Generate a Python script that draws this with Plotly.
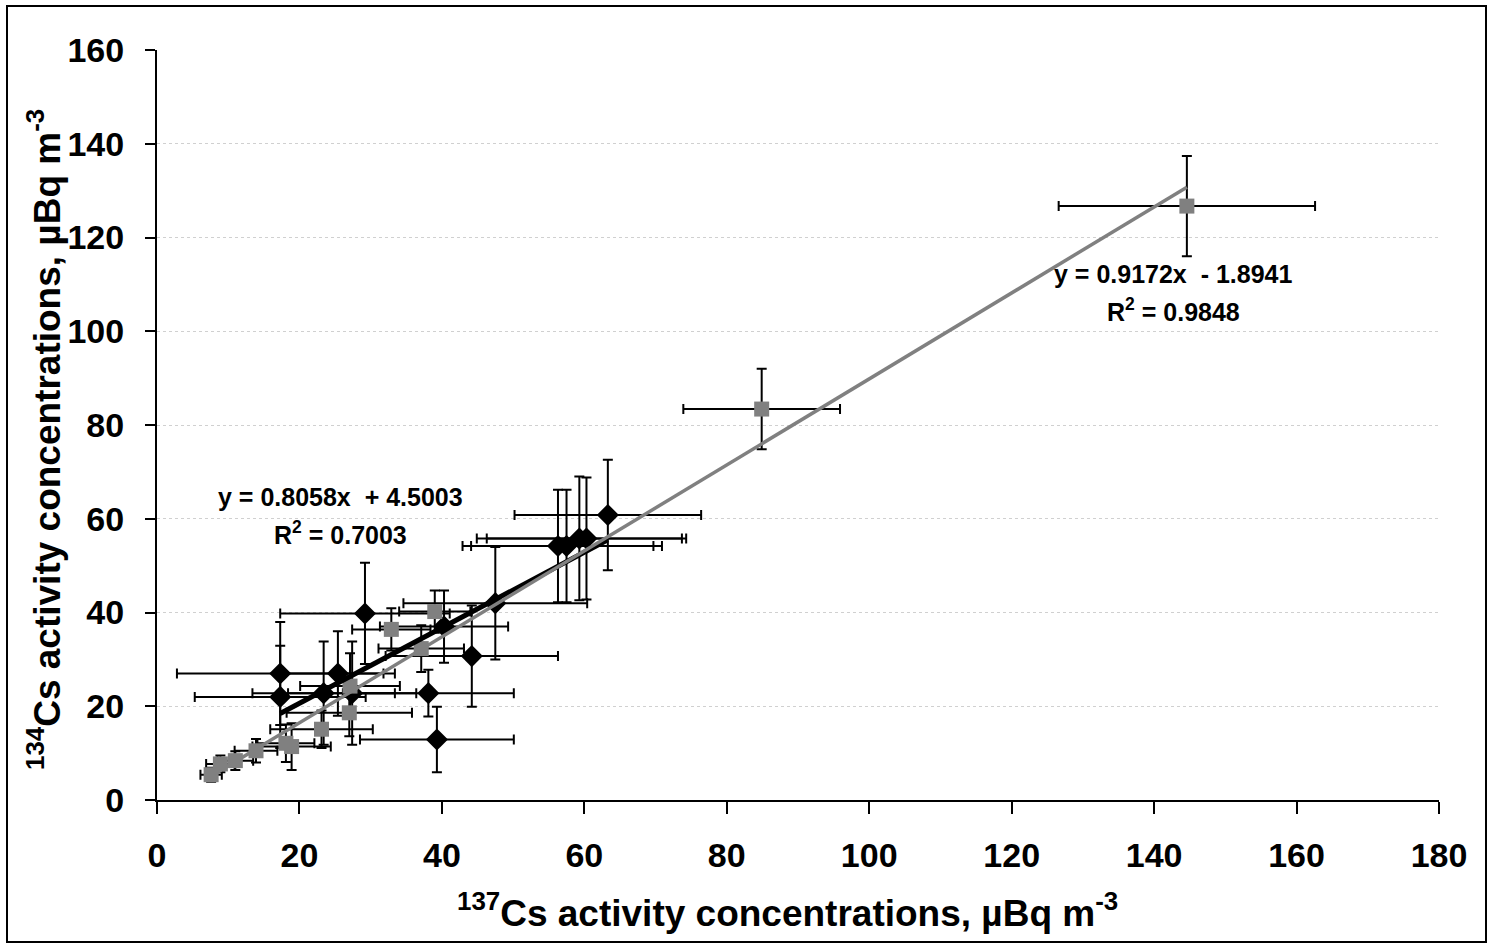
import plotly.graph_objects as go

# Series 1: black diamonds
s1_x = [17.3, 17.3, 23.4, 25.4, 27.4, 29.2, 38.1, 39.3, 40.3, 44.2, 47.5, 56.3, 57.5, 59.3, 60.3, 63.3]
s1_y = [27.0, 22.0, 22.8, 27.0, 22.8, 39.8, 22.8, 12.9, 37.0, 30.7, 42.0, 54.2, 54.2, 55.8, 55.8, 60.8]
s1_xerr = [14.5, 12.0, 10.0, 8.0, 9.0, 11.9, 12.0, 10.8, 9.0, 12.1, 12.9, 13.4, 13.4, 14.4, 14.0, 13.1]
s1_yerr = [11.0, 10.9, 11.0, 9.0, 11.0, 10.8, 5.0, 7.0, 7.7, 10.8, 12.0, 12.0, 12.0, 13.2, 13.0, 11.8]
s1_slope, s1_intercept, s1_r2 = 0.8058, 4.5003, 0.7003

# Series 2: grey squares
s2_x = [7.6, 8.9, 11.0, 13.9, 18.1, 18.9, 23.1, 27.0, 27.1, 32.9, 37.1, 39.0, 84.9, 144.6]
s2_y = [5.4, 7.7, 8.4, 10.5, 12.1, 11.4, 15.1, 18.6, 24.3, 36.4, 32.3, 40.2, 83.4, 126.7]
s2_xerr = [1.5, 2.0, 2.5, 3.0, 4.0, 5.5, 7.2, 8.8, 7.0, 5.5, 6.0, 5.0, 11.0, 18.0]
s2_yerr = [1.5, 1.8, 2.0, 2.5, 4.0, 5.0, 4.0, 5.0, 7.0, 4.5, 5.0, 4.5, 8.6, 10.7]
s2_slope, s2_intercept, s2_r2 = 0.9172, -1.8941, 0.9848

x_ticks = [0, 20, 40, 60, 80, 100, 120, 140, 160, 180]
y_ticks = [0, 20, 40, 60, 80, 100, 120, 140, 160]

FONT = "Liberation Sans, Arial, sans-serif"

def line_pts(xs, m, b):
    x0, x1 = min(xs), max(xs)
    return [x0, x1], [m * x0 + b, m * x1 + b]

fig = go.Figure()

fig.add_trace(go.Scatter(
    x=s1_x, y=s1_y, mode="markers",
    marker=dict(symbol="diamond", size=17, color="black"),
    error_x=dict(type="data", array=s1_xerr, color="black", thickness=2, width=5),
    error_y=dict(type="data", array=s1_yerr, color="black", thickness=2, width=5),
    showlegend=False))

fig.add_trace(go.Scatter(
    x=s2_x, y=s2_y, mode="markers",
    marker=dict(symbol="square", size=15, color="#808080"),
    error_x=dict(type="data", array=s2_xerr, color="black", thickness=2, width=5),
    error_y=dict(type="data", array=s2_yerr, color="black", thickness=2, width=5),
    showlegend=False))

lx, ly = line_pts(s1_x, s1_slope, s1_intercept)
fig.add_trace(go.Scatter(x=lx, y=ly, mode="lines", line=dict(color="black", width=5),
                         showlegend=False))
lx2, ly2 = line_pts(s2_x, s2_slope, s2_intercept)
fig.add_trace(go.Scatter(x=lx2, y=ly2, mode="lines", line=dict(color="#808080", width=3.5),
                         showlegend=False))

def eq_text(m, b):
    sign = "+" if b >= 0 else "-"
    return f"y = {m:.4f}x  {sign} {abs(b):.4f}"

def px(xp):
    return (xp - 157) / 1282

def py(yp):
    return (800 - yp) / 750

ann_font = dict(family=FONT, size=25, color="black", weight="bold")
common = dict(xref="paper", yref="paper", showarrow=False, xanchor="center", yanchor="middle")
annotations = [
    dict(x=px(340), y=py(497), text=eq_text(s1_slope, s1_intercept), font=ann_font, **common),
    dict(x=px(340), y=py(533), text=f"R<sup>2</sup> = {s1_r2:.4f}", font=ann_font, **common),
    dict(x=px(1173), y=py(274), text=eq_text(s2_slope, s2_intercept), font=ann_font, **common),
    dict(x=px(1173), y=py(310), text=f"R<sup>2</sup> = {s2_r2:.4f}", font=ann_font, **common),
    dict(x=px(787), y=py(910), text="<sup>137</sup>Cs activity concentrations, µBq m<sup>-3</sup>",
         font=dict(family=FONT, size=37, color="black", weight="bold"), **common),
    dict(x=px(44), y=py(440), textangle=-90,
         text="<sup>134</sup>Cs activity concentrations, µBq m<sup>-3</sup>",
         font=dict(family=FONT, size=37, color="black", weight="bold"), **common),
]

fig.update_layout(
    width=1489, height=944,
    margin=dict(l=157, r=50, t=50, b=144),
    paper_bgcolor="white", plot_bgcolor="white",
    annotations=annotations,
    shapes=[dict(type="rect", xref="paper", yref="paper",
                 x0=px(7), x1=px(1486), y0=py(942), y1=py(6),
                 line=dict(color="black", width=2), fillcolor="rgba(0,0,0,0)", layer="below")],
)

fig.update_xaxes(range=[0, 180], tickvals=x_ticks, showgrid=False, zeroline=False,
                 showline=True, linecolor="black", linewidth=2,
                 ticks="outside", ticklen=12, tickwidth=2, tickcolor="black",
                 ticklabelstandoff=12,
                 tickfont=dict(family=FONT, size=34, color="black", weight="bold"))
fig.update_yaxes(range=[0, 160], tickvals=y_ticks, showgrid=True, gridcolor="#d0d0d0",
                 griddash="dot", gridwidth=1, zeroline=False,
                 showline=True, linecolor="black", linewidth=2,
                 ticks="outside", ticklen=10, tickwidth=2, tickcolor="black",
                 ticklabelstandoff=14,
                 tickfont=dict(family=FONT, size=34, color="black", weight="bold"))

fig.write_html("out.html", config={"displayModeBar": False},
               post_script="document.body.style.margin='0';document.body.style.overflow='hidden';")
